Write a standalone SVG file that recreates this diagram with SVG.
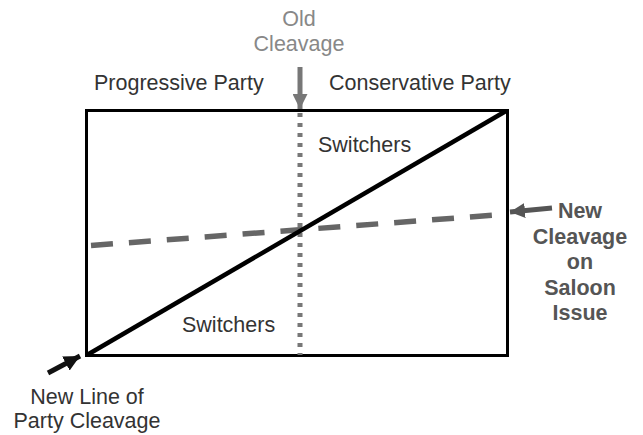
<svg xmlns="http://www.w3.org/2000/svg" width="643" height="435" viewBox="0 0 643 435">
<style>
text{font-family:"Liberation Sans",Arial,sans-serif;font-size:21.5px;fill:#333}
.old{fill:#888}
.new{fill:#555;font-weight:bold}
</style>
<defs>
<marker id="hb" viewBox="0 0 10 10" refX="10" refY="5" markerWidth="3.2" markerHeight="3.2" orient="auto" markerUnits="strokeWidth"><path d="M0,0L10,5L0,10z" fill="#111"/></marker>
<marker id="hg" viewBox="0 0 10 10" refX="10" refY="5" markerWidth="3" markerHeight="3" orient="auto" markerUnits="strokeWidth"><path d="M0,0L10,5L0,10z" fill="#777"/></marker>
<marker id="hd" viewBox="0 0 10 10" refX="10" refY="5" markerWidth="3" markerHeight="3" orient="auto" markerUnits="strokeWidth"><path d="M0,0L10,5L0,10z" fill="#555"/></marker>
</defs>
<g id="frame"><rect x="86.5" y="110.5" width="421" height="245" fill="none" stroke="#000" stroke-width="3"/></g>
<g id="connectors">
<line x1="300" y1="113" x2="300" y2="355" stroke="#777" stroke-width="5" stroke-dasharray="4 6"/>
<line x1="91" y1="245.5" x2="496" y2="215" stroke="#666" stroke-width="5.5" stroke-dasharray="22 16"/>
<line x1="87" y1="355" x2="506" y2="111" stroke="#000" stroke-width="4.5"/>
<line x1="300" y1="67" x2="300" y2="109" stroke="#777" stroke-width="5" marker-end="url(#hg)"/>
<line x1="552" y1="208" x2="510" y2="212" stroke="#555" stroke-width="5" marker-end="url(#hd)"/>
<line x1="48" y1="373" x2="80" y2="356" stroke="#111" stroke-width="5" marker-end="url(#hb)"/>
</g>
<g id="old-cleavage"><text class="old" x="299" y="26" text-anchor="middle">Old</text><text class="old" x="299" y="51" text-anchor="middle">Cleavage</text></g>
<g id="progressive"><text x="94" y="90">Progressive Party</text></g>
<g id="conservative"><text x="329" y="90">Conservative Party</text></g>
<g id="switchers-top"><text x="318" y="152">Switchers</text></g>
<g id="switchers-bottom"><text x="182" y="332">Switchers</text></g>
<g id="new-cleavage"><text class="new" text-anchor="middle" x="580" y="218">New</text><text class="new" text-anchor="middle" x="580" y="244">Cleavage</text><text class="new" text-anchor="middle" x="580" y="269">on</text><text class="new" text-anchor="middle" x="580" y="295">Saloon</text><text class="new" text-anchor="middle" x="580" y="320">Issue</text></g>
<g id="new-line"><text x="87" y="404" text-anchor="middle">New Line of</text><text x="87" y="428" text-anchor="middle">Party Cleavage</text></g>
</svg>
